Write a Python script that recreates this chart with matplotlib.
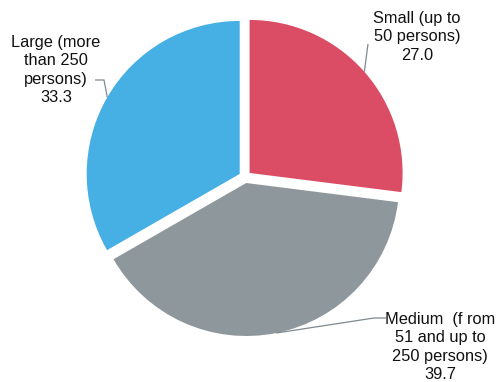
import numpy as np
import matplotlib.pyplot as plt

plt.rcParams['font.family'] = ['Liberation Sans', 'DejaVu Sans']

labels = ["Small (up to\n50 persons)", "Medium  (f rom\n51 and up to\n250 persons)",
          "Large (more\nthan 250\npersons)"]
shares = [27.0, 39.7, 33.3]
colors = ["#db4c65", "#8e979c", "#46afe3"]

W, H = 497, 382
fig = plt.figure(figsize=(W / 100, H / 100), dpi=100)
ax = fig.add_axes([0, 0, 1, 1])

explode = 0.04
wedges, _ = ax.pie(shares, colors=colors, startangle=90, counterclock=False,
                   explode=[explode] * 3, radius=1.0,
                   wedgeprops=dict(linewidth=0))

# pixel -> data mapping: pie centre at (245, 177) px, 153 px per unit
cx, cy, s = 245, 177, 153
ax.set_xlim(-cx / s, (W - cx) / s)
ax.set_ylim(-(H - cy) / s, cy / s)
ax.set_aspect('equal')
ax.axis('off')

def px(x, y):
    return (x - cx) / s, (cy - y) / s

# text centre, elbow point, text-side end of leader (pixels)
label_layout = [
    ((417, 37), None, (368, 44)),
    ((440, 347), (374, 318), (386, 318)),
    ((56, 70), (104, 80), (95, 80)),
]

for w, lab, val, (tpos, elbow, tend) in zip(wedges, labels, shares, label_layout):
    mid = np.deg2rad((w.theta1 + w.theta2) / 2)
    ox, oy = w.center
    anchor = (ox + w.r * np.cos(mid), oy + w.r * np.sin(mid))
    pts = [anchor]
    if elbow is not None:
        pts.append(px(*elbow))
    pts.append(px(*tend))
    xs, ys = zip(*pts)
    ax.plot(xs, ys, color="#7f8a90", lw=0.9, solid_capstyle='butt')
    tx, ty = px(*tpos)
    ax.text(tx, ty, f"{lab}\n{val:.1f}", ha='center', va='center',
            fontsize=11.8, linespacing=1.28, color="#111111")

fig.savefig("out.png", dpi=100)
